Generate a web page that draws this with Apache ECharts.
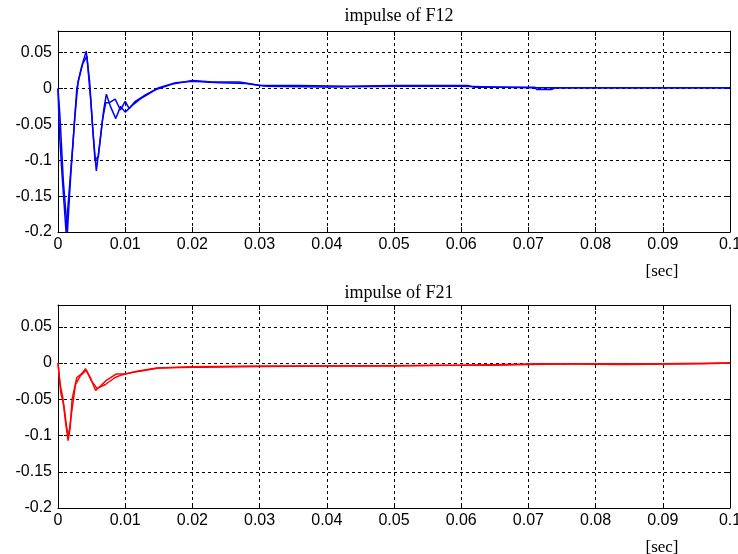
<!DOCTYPE html>
<html>
<head>
<meta charset="utf-8">
<script src="https://cdn.jsdelivr.net/npm/echarts@6/dist/echarts.min.js"></script>
<style>
  html,body{margin:0;padding:0;background:#fff;}
  #chart{width:738px;height:554px;}
</style>
</head>
<body>
<div id="chart"></div>
<script>
// impulse responses: [time sec, value]
var f12RunA = [[0,0],[0.0002,-0.06],[0.0006,-0.12],[0.0012,-0.2],[0.0016,-0.15],[0.0022,-0.08],[0.0028,0],
  [0.0035,0.03],[0.0042,0.052],[0.0047,0.01],[0.0052,-0.06],[0.0057,-0.115],[0.0063,-0.07],[0.0068,-0.03],
  [0.0072,-0.008],[0.0078,-0.025],[0.0086,-0.042],[0.0093,-0.025],[0.01,-0.033],[0.011,-0.024],[0.0125,-0.013],
  [0.0145,-0.002],[0.017,0.006],[0.02,0.011],[0.023,0.009],[0.027,0.009],[0.03,0.004],[0.036,0.004],
  [0.043,0.003],[0.05,0.004],[0.061,0.004],[0.062,0.0015],[0.071,0.0015],[0.0712,-0.0014],[0.0735,-0.0014],
  [0.074,0.001],[0.084,0.001],[0.09,0.001],[0.1,0.001]];
var f12RunB = [[0,0],[0.0003,-0.04],[0.0008,-0.13],[0.0014,-0.2],[0.0019,-0.12],[0.0025,-0.04],[0.003,0.01],
  [0.0037,0.035],[0.0043,0.045],[0.0049,-0.02],[0.0055,-0.1],[0.006,-0.095],[0.0066,-0.045],[0.0071,-0.02],
  [0.0076,-0.02],[0.0085,-0.015],[0.0093,-0.03],[0.01,-0.018],[0.0106,-0.028],[0.0115,-0.018],[0.013,-0.009],
  [0.015,0.001],[0.0175,0.008],[0.02,0.01],[0.024,0.008],[0.028,0.007],[0.031,0.003],[0.04,0.002],
  [0.05,0.003],[0.06,0.003],[0.07,0.001],[0.08,0.001],[0.09,0.001],[0.1,0.001]];
var f21RunA = [[0,0],[0.0003,-0.029],[0.0007,-0.047],[0.0011,-0.08],[0.0015,-0.107],[0.0018,-0.09],
  [0.0021,-0.05],[0.0028,-0.02],[0.0035,-0.015],[0.0041,-0.008],[0.0048,-0.02],[0.0056,-0.038],
  [0.0064,-0.031],[0.0072,-0.024],[0.0087,-0.015],[0.01,-0.015],[0.012,-0.011],[0.0147,-0.007],
  [0.02,-0.006],[0.022,-0.006],[0.03,-0.005],[0.04,-0.004],[0.05,-0.004],[0.057,-0.003],[0.065,-0.003],
  [0.07,-0.002],[0.078,-0.001],[0.09,-0.001],[0.1,0]];
var f21RunB = [[0,0],[0.0004,-0.04],[0.0009,-0.06],[0.0013,-0.09],[0.0016,-0.1],[0.002,-0.07],
  [0.0026,-0.03],[0.0033,-0.018],[0.0042,-0.01],[0.005,-0.025],[0.0058,-0.035],[0.007,-0.03],
  [0.0085,-0.02],[0.0093,-0.017],[0.011,-0.013],[0.015,-0.007],[0.02,-0.005],[0.03,-0.004],
  [0.04,-0.004],[0.06,-0.003],[0.072,-0.001],[0.084,-0.002],[0.096,-0.001],[0.1,0]];
var titles = ['impulse of F12', 'impulse of F21'];
var xUnit = '[sec]';

var fmt = function (v) { return String(+v.toFixed(3)); };
var myChart = echarts.init(document.getElementById('chart'));

function xAx(gi, pos, lab) {
  return {
    type: 'value', gridIndex: gi, position: pos, min: 0, max: 0.1, interval: 0.01,
    axisLine: {show: true, onZero: false, lineStyle: {color: '#000', width: 1}},
    axisTick: {show: true, inside: true, length: 5, lineStyle: {color: '#000'}},
    axisLabel: {show: lab, color: '#000', fontFamily: 'Liberation Sans', fontSize: 16, margin: 5, formatter: fmt},
    splitLine: {show: lab, lineStyle: {color: '#000', type: [3, 3], width: 1}}
  };
}
function yAx(gi, pos, lab) {
  return {
    type: 'value', gridIndex: gi, position: pos, min: -0.2, max: 0.08, interval: 0.05,
    axisLine: {show: true, onZero: false, lineStyle: {color: '#000', width: 1}},
    axisTick: {show: true, inside: true, length: 5, lineStyle: {color: '#000'}},
    axisLabel: {show: lab, color: '#000', fontFamily: 'Liberation Sans', fontSize: 16, margin: 6,
      showMaxLabel: false, formatter: fmt},
    splitLine: {show: lab, lineStyle: {color: '#000', type: [3, 3], width: 1}}
  };
}
function ser(xi, data, color) {
  return {type: 'line', xAxisIndex: xi, yAxisIndex: xi, data: data, symbol: 'none',
    lineStyle: {color: color, width: 1.5}, animation: false};
}

var titleFont = {fontFamily: 'Liberation Serif', fontWeight: 'normal', fontSize: 18, color: '#000'};
var unitFont = {fontFamily: 'Liberation Serif', fontWeight: 'normal', fontSize: 17, color: '#000'};

option = {
  backgroundColor: '#fff',
  animation: false,
  title: [
    {text: titles[0], left: 394, top: 2, textAlign: 'center', textStyle: titleFont},
    {text: titles[1], left: 394, top: 279, textAlign: 'center', textStyle: titleFont},
    {text: xUnit, left: 657, top: 258, textAlign: 'center', textStyle: unitFont},
    {text: xUnit, left: 657, top: 534, textAlign: 'center', textStyle: unitFont}
  ],
  grid: [
    {left: 58, right: 8, top: 31, height: 201, outerBoundsMode: 'none'},
    {left: 58, right: 8, top: 305, height: 203, outerBoundsMode: 'none'}
  ],
  xAxis: [xAx(0, 'bottom', true), xAx(1, 'bottom', true), xAx(0, 'top', false), xAx(1, 'top', false)],
  yAxis: [yAx(0, 'left', true), yAx(1, 'left', true), yAx(0, 'right', false), yAx(1, 'right', false)],
  series: [
    ser(0, f12RunA, '#0000ff'), ser(0, f12RunB, '#0000ff'),
    ser(1, f21RunA, '#ff0000'), ser(1, f21RunB, '#ff0000')
  ]
};
myChart.setOption(option);
</script>
</body>
</html>
